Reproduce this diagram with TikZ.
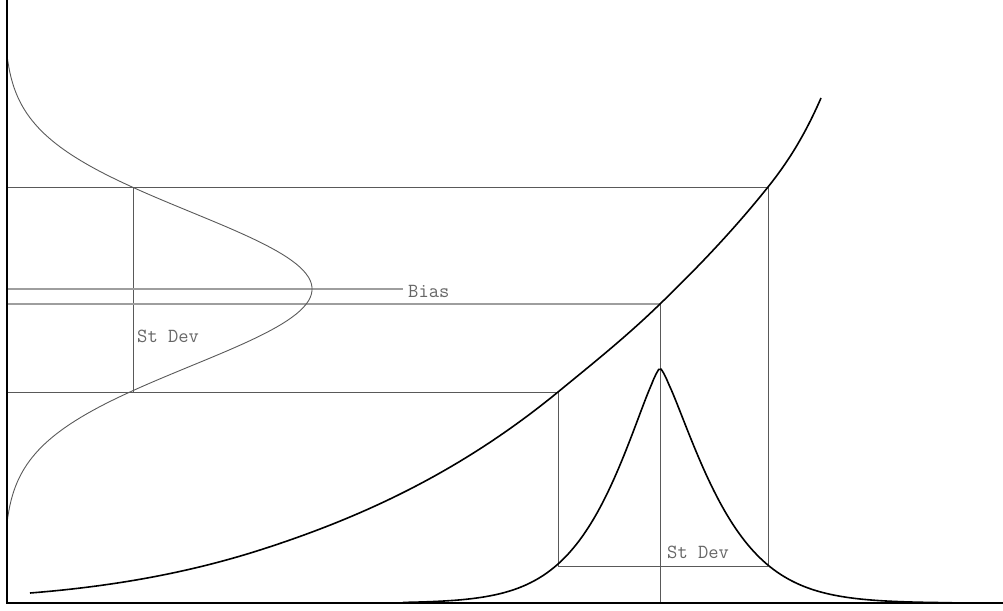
\documentclass[tikz,border=0pt]{standalone}
\usepackage{fontspec}
\begin{document}
\begin{tikzpicture}[x=1pt,y=-1pt,
  axisline/.style={line width=2.6pt, black},
  guide/.style={line width=0.9pt, draw=black!65},
  biasline/.style={line width=1.4pt, draw=black!38},
  curve/.style={line width=1.6pt, black},
  thincurve/.style={line width=0.9pt, black!65},
  lbl/.style={font=\ttfamily\fontsize{20}{20}\selectfont, text=black!60, inner sep=0pt, anchor=base west}]
\useasboundingbox (0,0) rectangle (1003,610);
% key coordinates
\coordinate (T) at (7,0);
\coordinate (O) at (7,603);
\coordinate (R) at (1003,603);
\coordinate (L1) at (8,187);
\coordinate (A) at (768,187);
\coordinate (L2) at (8,289);
\coordinate (L3) at (8,304);
\coordinate (M) at (660,304);
\coordinate (L4) at (8,392);
\coordinate (C) at (558,392);
\coordinate (P1) at (133,187);
\coordinate (P2) at (133,392);
\coordinate (Q1) at (558,566);
\coordinate (Q2) at (768,566);
\coordinate (M0) at (660,603);
\coordinate (S0) at (30,593);
\coordinate (S1) at (260,550);
\coordinate (S2) at (821,98);
% labels
\node[lbl] (bias) at (408,297) {Bias};
\node[lbl] (sdl) at (137,342) {St Dev};
\node[lbl] (sdr) at (667,558) {St Dev};
% guide lines
\draw[guide] (L1) -- (A) -- (Q2);
\draw[guide] (L4) -- (C) -- (Q1) -- (Q2);
\draw[guide] (P1) -- (P2);
\draw[guide] (M) -- (M0);
\draw[biasline] (L3) -- (M);
\draw[biasline] (L2) -- ([xshift=-5]L2 -| bias.west);
% left distribution (rotated bell)
\draw[thincurve] plot[domain=57:521, samples=140] ({4+308*exp(-0.5*((\x-289)/77)^2)}, \x);
% transfer curve
\draw[curve] (S0)
  .. controls (106.7,586.9) and (183.3,574.5) .. (S1)
  .. controls (359.3,518.2) and (458.7,473.4) .. (C)
  .. controls (592,364.1) and (626,337) .. (M)
  .. controls (696,269.1) and (732,232) .. (A)
  .. controls (785.67,164.9) and (803.33,138.6) .. (S2);
% bottom distribution
\draw[curve] plot[domain=-257:292, samples=220] ({660+\x}, {603-235*exp(-(abs(\x)/((\x<0)?65:68)+0.0001)^1.3)});
% axes
\draw[axisline] (T) -- (O) -- (R);
\end{tikzpicture}
\end{document}
